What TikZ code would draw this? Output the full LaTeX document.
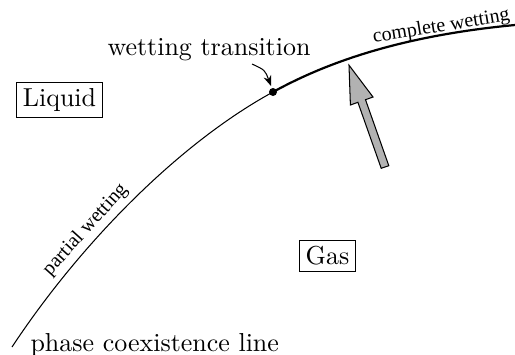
\documentclass[tikz,border=0pt]{standalone}
\usepackage{fontspec}
\newfontfamily\lblfont{Liberation Serif}
\usetikzlibrary{arrows.meta}
\begin{document}
\begin{tikzpicture}[x=0.385pt,y=-0.385pt,
  lbl/.style={inner sep=0pt,font=\lblfont\fontsize{7.7}{9}\selectfont},
  region/.style={draw,line width=0.4pt,inner sep=2.3pt,font=\normalsize},
  thin curve/.style={line width=0.4pt},
  thick curve/.style={line width=0.85pt}]
\useasboundingbox (0,0) rectangle (515,354);
\coordinate (start) at (12,347);
\coordinate (wt) at (273,92);
\coordinate (end) at (515,25);
\draw[thin curve] (start) .. controls (78,247) and (176,145) .. (wt);
\draw[thick curve] (wt) .. controls (340,55) and (420,34) .. (end);
\fill (wt) circle (4);
\node[font=\normalsize,inner sep=0pt] (wtl) at (209,50) {wetting transition};
\coordinate (wta) at (252,64);
\draw[-{Stealth[length=4pt,width=3pt]},line width=0.4pt] (wta) .. controls (265,70) .. (271,86);
\node[region] (liq) at (59.5,100) {Liquid};
\node[region] (gas) at (327.5,256) {Gas};
\node[lbl,rotate=47.9,anchor=base] (pw) at (89,233) {partial wetting};
\node[lbl,rotate=9.3,anchor=base] (cw) at (442,31.5) {complete wetting};
\node[font=\normalsize,inner sep=0pt,anchor=base west] (pcl) at (30,351) {phase coexistence line};
\filldraw[fill=black!30,line width=0.4pt]
  (388.8,165.7) -- (365.5,99.7) -- (373,97) -- (349,65.2) -- (350.4,105) -- (357.9,102.3) -- (381.2,168.3) -- cycle;
\end{tikzpicture}
\end{document}
